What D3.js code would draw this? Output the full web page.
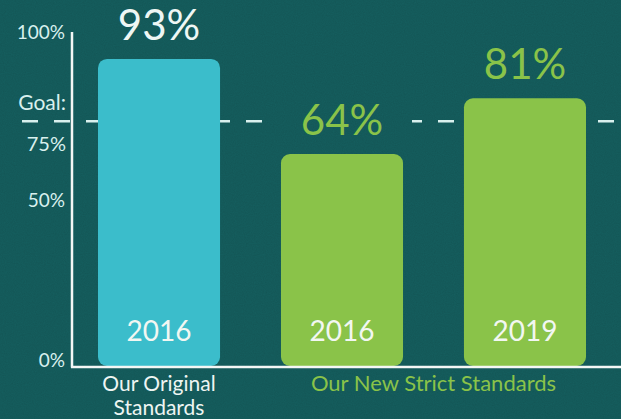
<!DOCTYPE html>
<html>
<head>
<meta charset="utf-8">
<script src="https://d3js.org/d3.v7.min.js"></script>
<style>
  body { margin: 0; background: #155f5f; }
  svg { display: block; font-family: "Source Sans Pro", Lato, "Open Sans", sans-serif; }
</style>
</head>
<body>
<div id="chart"></div>
<script>
// data
var years    = ["2016", "2016", "2019"];
var values   = [93, 64, 81];
var barKinds = ["original", "strict", "strict"];
var goal     = 74;
var tickVals = [100, 50, 0];

var W = 621, H = 419;
var margin = {top: 36, right: 0, bottom: 52, left: 72};
var bg = "#155f5f", cyan = "#3bbdcb", green = "#8ac349", pale = "#d9f0ee";

var svg = d3.select("#chart").append("svg")
    .attr("width", W).attr("height", H);

// background with a light paper texture
var defs = svg.append("defs");
var f = defs.append("filter").attr("id", "grain");
f.append("feTurbulence").attr("type", "fractalNoise").attr("baseFrequency", 0.9).attr("numOctaves", 2).attr("seed", 3);
f.append("feColorMatrix").attr("values", "0 0 0 0 0  0 0 0 0 0  0 0 0 0 0  0 0 0 0.10 0");
svg.append("rect").attr("width", W).attr("height", H).attr("fill", bg);
svg.append("rect").attr("width", W).attr("height", H).attr("filter", "url(#grain)");

var y = d3.scaleLinear().domain([0, 100]).range([364, margin.top]);
var x = d3.scaleBand().domain(d3.range(values.length))
    .range([98, 586]).paddingInner(0.333).paddingOuter(0);

var base = 366;
var labOff = 19;

// mask so the goal line stops around a value label that sits on it
var mask = defs.append("mask").attr("id", "goalMask")
    .attr("maskUnits", "userSpaceOnUse")
    .attr("x", 0).attr("y", 0).attr("width", W).attr("height", H);
mask.append("rect").attr("width", W).attr("height", H).attr("fill", "white");
values.forEach(function(d, i) {
  if (y(d) - labOff > y(goal)) {
    mask.append("rect")
        .attr("x", x(i) + x.bandwidth() / 2 - 76).attr("y", y(goal) - 10)
        .attr("width", 146).attr("height", 20).attr("fill", "black");
  }
});

// goal line (behind bars)
svg.append("line")
    .attr("x1", 20).attr("x2", W)
    .attr("y1", y(goal)).attr("y2", y(goal))
    .attr("stroke", pale).attr("stroke-width", 2.5)
    .attr("stroke-dasharray", "16,16").attr("stroke-dashoffset", -2)
    .attr("mask", "url(#goalMask)");

// bars
svg.selectAll("rect.bar").data(values).enter().append("rect")
    .attr("class", "bar")
    .attr("x", function(d, i) { return x(i); })
    .attr("y", function(d) { return y(d); })
    .attr("width", x.bandwidth())
    .attr("height", function(d) { return base - y(d); })
    .attr("rx", 9)
    .attr("fill", function(d, i) { return barKinds[i] == "original" ? cyan : green; });

// value labels
svg.selectAll("text.vlab").data(values).enter().append("text")
    .attr("class", "vlab")
    .attr("x", function(d, i) { return x(i) + x.bandwidth() / 2; })
    .attr("y", function(d) { return y(d) - labOff; })
    .attr("text-anchor", "middle")
    .attr("font-size", 42)
    .attr("fill", function(d, i) { return barKinds[i] == "original" ? "#eef7f5" : green; })
    .text(function(d) { return d + "%"; });

// year labels inside bars
svg.selectAll("text.year").data(years).enter().append("text")
    .attr("class", "year")
    .attr("x", function(d, i) { return x(i) + x.bandwidth() / 2; })
    .attr("y", 341)
    .attr("text-anchor", "middle")
    .attr("font-size", 28)
    .attr("fill", "#f2f7f2")
    .text(function(d) { return d; });

// axes
svg.append("line").attr("x1", margin.left).attr("x2", margin.left)
    .attr("y1", 32).attr("y2", base + 1.5)
    .attr("stroke", "#f4f7f5").attr("stroke-width", 2.5);
svg.append("line").attr("x1", margin.left - 1).attr("x2", W)
    .attr("y1", base + 1).attr("y2", base + 1)
    .attr("stroke", "#f4f7f5").attr("stroke-width", 2.5);

// y tick labels
var yAxis = d3.axisLeft(y).tickValues(tickVals).tickSize(0).tickPadding(6)
    .tickFormat(function(d) { return d + "%"; });
var ya = svg.append("g").attr("transform", "translate(" + (margin.left - 1) + ",0)").call(yAxis);
ya.select(".domain").remove();
ya.selectAll("text").attr("font-size", 19).attr("fill", pale)
    .attr("font-family", "\"Source Sans Pro\", Lato, \"Open Sans\", sans-serif");
ya.selectAll(".tick").filter(function(d) { return d == 100; }).select("text").attr("dy", "0.15em");
ya.selectAll(".tick").filter(function(d) { return d == 0; }).select("text").attr("dy", "0.15em");

// goal and 75% labels around the goal line
svg.append("text").attr("x", 66).attr("y", y(goal) - 11)
    .attr("text-anchor", "end").attr("font-size", 21).attr("fill", pale).text("Goal:");
svg.append("text").attr("x", 66).attr("y", y(goal) + 30)
    .attr("text-anchor", "end").attr("font-size", 20).attr("fill", pale).text("75%");

// category labels
var cx0 = x(0) + x.bandwidth() / 2;
svg.append("text").attr("x", cx0).attr("y", 391).attr("text-anchor", "middle")
    .attr("font-size", 21).attr("fill", "#eef5f2").text("Our Original");
svg.append("text").attr("x", cx0).attr("y", 415).attr("text-anchor", "middle")
    .attr("font-size", 21).attr("fill", "#eef5f2").text("Standards");
var cx12 = (x(1) + x(2) + x.bandwidth()) / 2;
svg.append("text").attr("x", cx12).attr("y", 391).attr("text-anchor", "middle")
    .attr("font-size", 22).attr("fill", green).text("Our New Strict Standards");
</script>
</body>
</html>
